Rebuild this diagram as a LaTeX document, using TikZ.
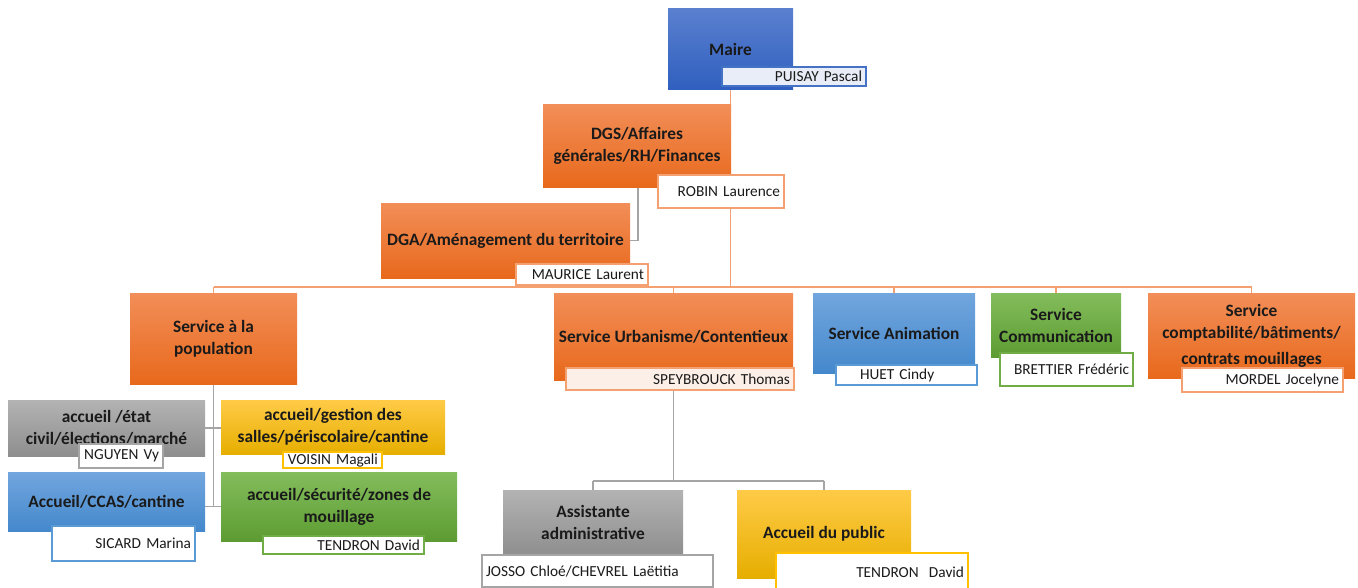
\documentclass[tikz,border=0pt]{standalone}
\usepackage{fontspec}
\setmainfont{Carlito}
\usetikzlibrary{backgrounds}
\definecolor{bdk1}{HTML}{5A80CF}\definecolor{bdk2}{HTML}{2F5FBF}
\definecolor{blt1}{HTML}{72A6DE}\definecolor{blt2}{HTML}{4488CC}
\definecolor{or1}{HTML}{F28E58}\definecolor{or2}{HTML}{E8691C}
\definecolor{gr1}{HTML}{B3B3B3}\definecolor{gr2}{HTML}{8E8E8E}
\definecolor{ye1}{HTML}{FFCB47}\definecolor{ye2}{HTML}{E6AE00}
\definecolor{gn1}{HTML}{83BD5C}\definecolor{gn2}{HTML}{5D9C32}
\definecolor{bborder}{HTML}{4472C4}\definecolor{lborder}{HTML}{5B9BD5}
\definecolor{oborder}{HTML}{F4A070}\definecolor{gborder}{HTML}{A5A5A5}
\definecolor{yborder}{HTML}{FFC000}\definecolor{nborder}{HTML}{70AD47}
\definecolor{lav}{HTML}{E9EDF7}\definecolor{peach}{HTML}{FCEFE7}
\definecolor{txt}{HTML}{1A1A1A}
\newcommand{\mkbox}[7]{%
 \pgfmathsetmacro\bw{(#4-#2)*0.75}%
 \pgfmathsetmacro\bh{(#5-#3)*0.75}%
 \node[#6, minimum width=\bw pt, minimum height=\bh pt] (#1) at ({(#2+#4)/2},{(#3+#5)/2}) {#7};}
\newcommand{\mkname}[7]{%
 \pgfmathsetmacro\bw{(#4-#2)*0.75}%
 \pgfmathsetmacro\bh{(#5-#3)*0.75}%
 \pgfmathsetmacro\tw{(#4-#2)*0.75-6}%
 \node[namebox, minimum width=\bw pt, minimum height=\bh pt, text width=\tw pt, #6] (#1) at ({(#2+#4)/2},{(#3+#5)/2}) {#7};}
\begin{document}
\begin{tikzpicture}[x=0.75pt,y=-0.75pt,
  mainbox/.style={inner sep=1pt, align=center, text=txt, font=\fontsize{13}{16.5}\selectfont\bfseries},
  bluedk/.style={mainbox, top color=bdk1, bottom color=bdk2},
  bluelt/.style={mainbox, top color=blt1, bottom color=blt2},
  orangebox/.style={mainbox, top color=or1, bottom color=or2},
  graybox/.style={mainbox, top color=gr1, bottom color=gr2},
  yellowbox/.style={mainbox, top color=ye1, bottom color=ye2},
  greenbox/.style={mainbox, top color=gn1, bottom color=gn2},
  namebox/.style={draw, line width=0.9pt, fill=white, inner xsep=3pt, inner ysep=0pt, align=right, text=txt, font=\fontsize{11.5}{13}\selectfont},
  oline/.style={draw=oborder, line width=1pt},
  gline/.style={draw=gborder, line width=1pt}]
\useasboundingbox (0,0) rectangle (1358,588);
% main boxes
\mkbox{maire}{668}{9}{793}{90}{bluedk}{Maire}
\mkbox{dgs}{543}{105}{731}{187}{orangebox}{DGS/Affaires\\générales/RH/Finances}
\mkbox{dga}{381}{203}{630}{278}{orangebox}{DGA/Aménagement du territoire}
\mkbox{pop}{130}{293}{297}{384}{orangebox}{Service à la\\population}
\mkbox{urb}{554}{293}{793}{380}{orangebox}{Service Urbanisme/Contentieux}
\mkbox{anim}{813}{293}{975}{373}{bluelt}{Service Animation}
\mkbox{comm}{991}{293}{1121}{357}{greenbox}{Service\\Communication}
\mkbox{compta}{1148}{293}{1355}{378}{orangebox}{Service\\comptabilité/bâtiments/\\[3pt]contrats mouillages}
\mkbox{etat}{8}{400}{205}{456}{graybox}{accueil /état\\civil/élections/marché}
\mkbox{gestion}{221}{400}{445}{454}{yellowbox}{accueil/gestion des\\salles/périscolaire/cantine}
\mkbox{ccas}{8}{472}{205}{531}{bluelt}{Accueil/CCAS/cantine}
\mkbox{secu}{221}{472}{457}{541}{greenbox}{accueil/sécurité/zones de\\mouillage}
\mkbox{asst}{503}{490}{683}{555}{graybox}{Assistante\\administrative}
\mkbox{public}{737}{490}{911}{578}{yellowbox}{Accueil du public}
% name boxes
\mkname{maireN}{722}{67}{866}{86}{draw=bborder, fill=lav}{PUISAY Pascal}
\mkname{dgsN}{658}{175}{784}{208}{draw=oborder}{ROBIN Laurence}
\mkname{dgaN}{516}{264}{648}{285}{draw=oborder}{MAURICE Laurent}
\mkname{urbN}{566}{368}{794}{390}{draw=oborder, fill=peach}{SPEYBROUCK Thomas}
\mkname{animN}{836}{365}{977}{385}{draw=lborder, align=left}{\hspace*{15pt}HUET Cindy}
\mkname{commN}{1000}{353}{1133}{386}{draw=nborder}{BRETTIER Frédéric}
\mkname{comptaN}{1182}{368}{1343}{392}{draw=oborder}{MORDEL Jocelyne}
\mkname{etatN}{79}{444}{163}{468}{draw=gborder}{NGUYEN Vy}
\mkname{gestionN}{283}{452}{382}{468}{draw=yborder}{VOISIN Magali}
\mkname{ccasN}{52}{526}{195}{561}{draw=lborder}{SICARD Marina}
\mkname{secuN}{263}{536}{424}{554}{draw=nborder}{TENDRON David}
\mkname{asstN}{482}{555}{713}{587}{draw=gborder, align=left}{JOSSO Chloé/CHEVREL Laëtitia}
\mkname{publicN}{776}{553}{968}{591}{draw=yborder}{TENDRON\ \ David}
% connectors
\begin{scope}[on background layer]
\coordinate (busY) at (0,287);
\coordinate (dgaJ) at (638,187);
\coordinate (urbY) at (0,481);
\draw[oline] (maire.south) -- (maire.south |- busY);
\draw[oline] (pop.north |- busY) -- (compta.north |- busY);
\foreach \n in {pop,urb,anim,comm,compta}
  \draw[oline] (\n.north |- busY) -- (\n.north);
\draw[gline] (dgaJ) |- (dga.east);
\draw[gline] (pop.south) -- (pop.south |- secu.west);
\draw[gline] (etat.east) -- (gestion.west |- etat.east);
\draw[gline] (ccas.east |- secu.west) -- (secu.west);
\draw[gline] (urbN.south -| urb.south) -- (urb.south |- urbY);
\draw[gline] (asst.north |- urbY) -- (public.north |- urbY);
\draw[gline] (asst.north |- urbY) -- (asst.north);
\draw[gline] (public.north |- urbY) -- (public.north);
\end{scope}
\end{tikzpicture}
\end{document}
